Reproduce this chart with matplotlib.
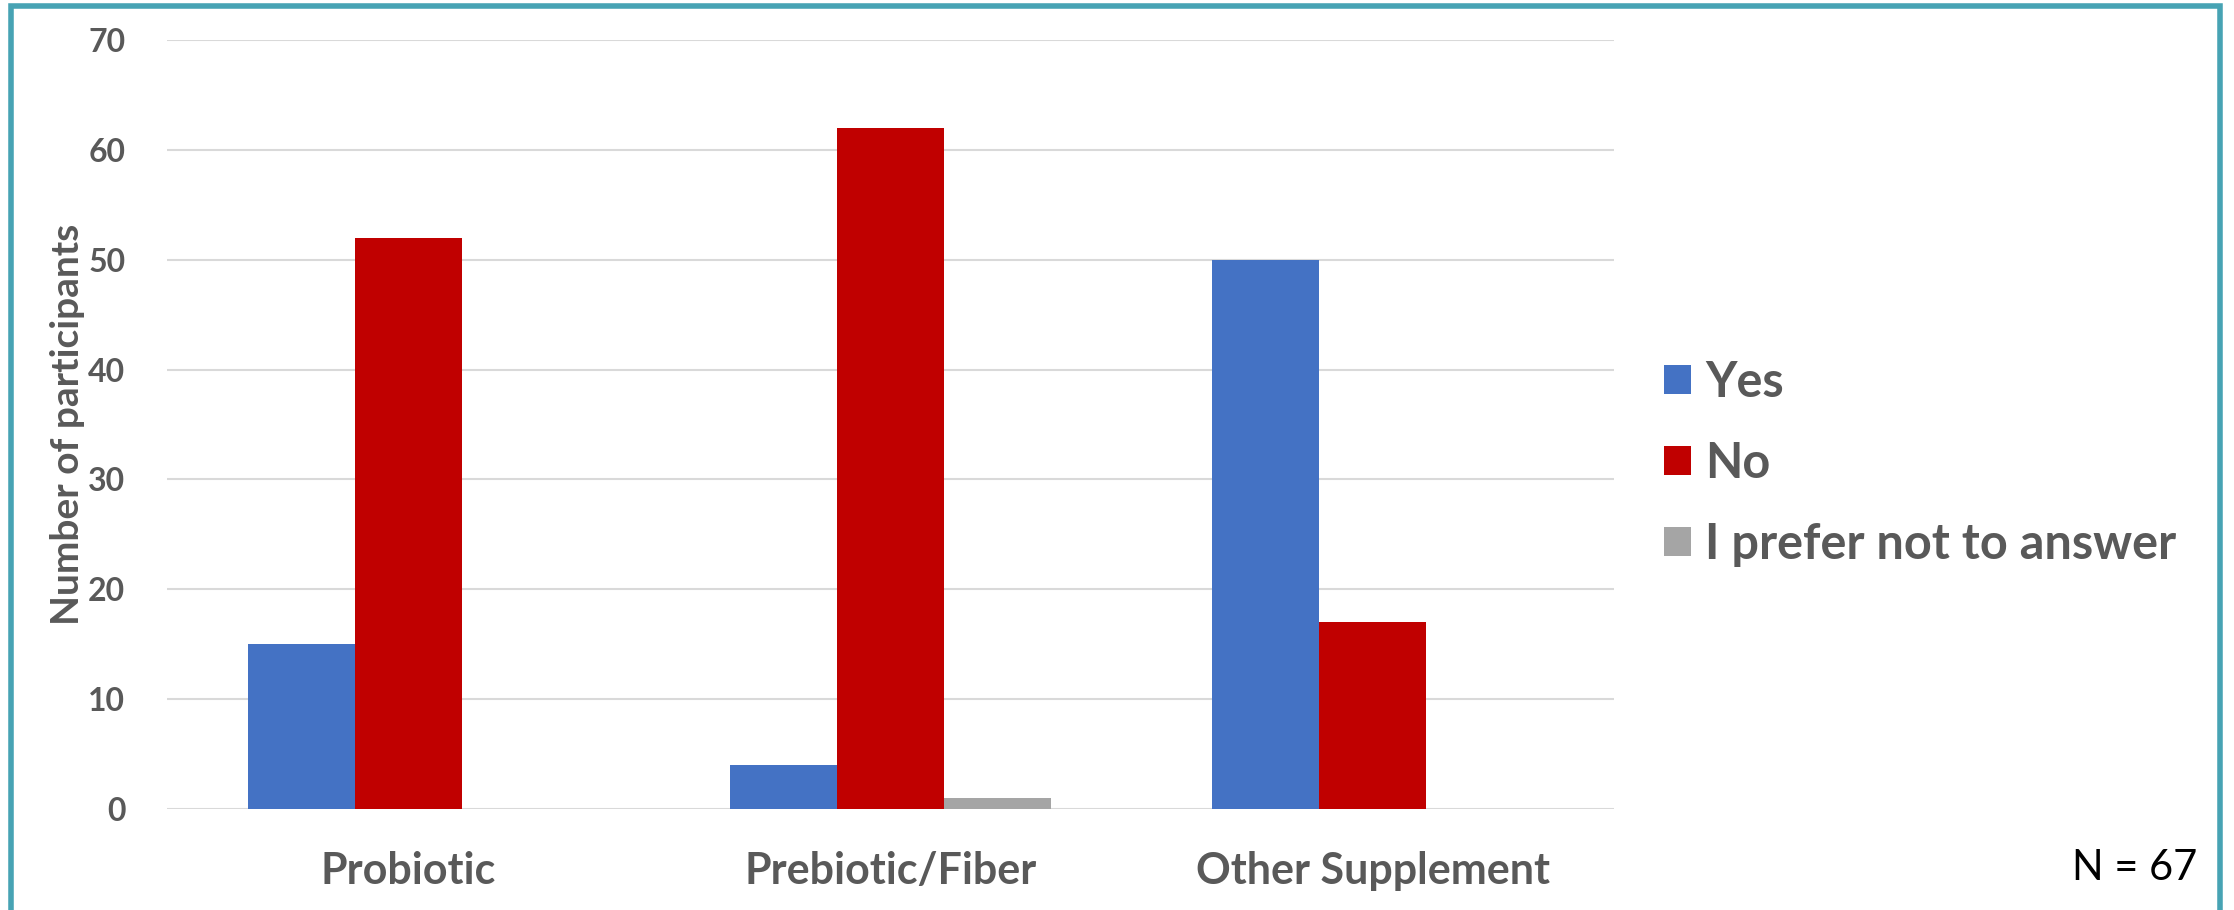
import numpy as np
import matplotlib.pyplot as plt
from matplotlib.patches import Rectangle

# data
categories = ['Probiotic', 'Prebiotic/Fiber', 'Other Supplement']
series = ['Yes', 'No', 'I prefer not to answer']
yes_vals = [15, 4, 50]
no_vals = [52, 62, 17]
no_answer_vals = [0, 1, 0]
colors = ['#4472C4', '#C00000', '#A5A5A5']

plt.rcParams['font.family'] = ['Lato', 'DejaVu Sans']
grey = '#595959'

W, H = 2234, 910
fig = plt.figure(figsize=(W / 100, H / 100), dpi=100)
ax = fig.add_axes([167 / W, 1 - 809 / H, (1614 - 167) / W, (809 - 40) / H])

x = np.arange(len(categories))
bw = 0.222
vals = [yes_vals, no_vals, no_answer_vals]
for i, (name, v) in enumerate(zip(series, vals)):
    ax.bar(x + (i - 1) * bw, v, bw, color=colors[i], label=name, zorder=3)

ax.set_xlim(-0.5, 2.5)
ax.set_ylim(0, 70)
ax.set_yticks(range(0, 71, 10))
ax.grid(axis='y', color='#D9D9D9', linewidth=1.5, zorder=0)
for s in ax.spines.values():
    s.set_visible(False)
ax.tick_params(axis='both', length=0)
ax.tick_params(axis='y', labelsize=23, labelcolor=grey, pad=30)
ax.tick_params(axis='x', labelsize=31, labelcolor=grey, pad=30)
ax.set_xticks(x)
ax.set_xticklabels(categories, fontweight='bold')
for t in ax.get_yticklabels():
    t.set_fontweight('bold')

fig.text(68 / W, 1 - 424 / H, 'Number of participants', fontsize=28,
         fontweight='bold', color=grey, rotation=90, ha='center', va='center')

leg = fig.legend(loc='upper left', bbox_to_anchor=(1664 / W, 1 - 360 / H),
                 frameon=False, prop={'size': 35, 'weight': 'bold'},
                 handlelength=0.55, handleheight=0.55, handletextpad=0.3,
                 labelspacing=0.74, borderaxespad=0, borderpad=0)
for t in leg.get_texts():
    t.set_color(grey)

fig.text(2197 / W, 1 - 880 / H, 'N = 67', fontsize=30, ha='right',
         va='baseline', color='black')

fig.patches.append(Rectangle((10.5 / W, -0.1), (2220 - 10.5) / W,
                             1.1 - 6.5 / H, transform=fig.transFigure,
                             fill=False, edgecolor='#47A3B4', linewidth=4))

fig.savefig('out.png', dpi=100)
